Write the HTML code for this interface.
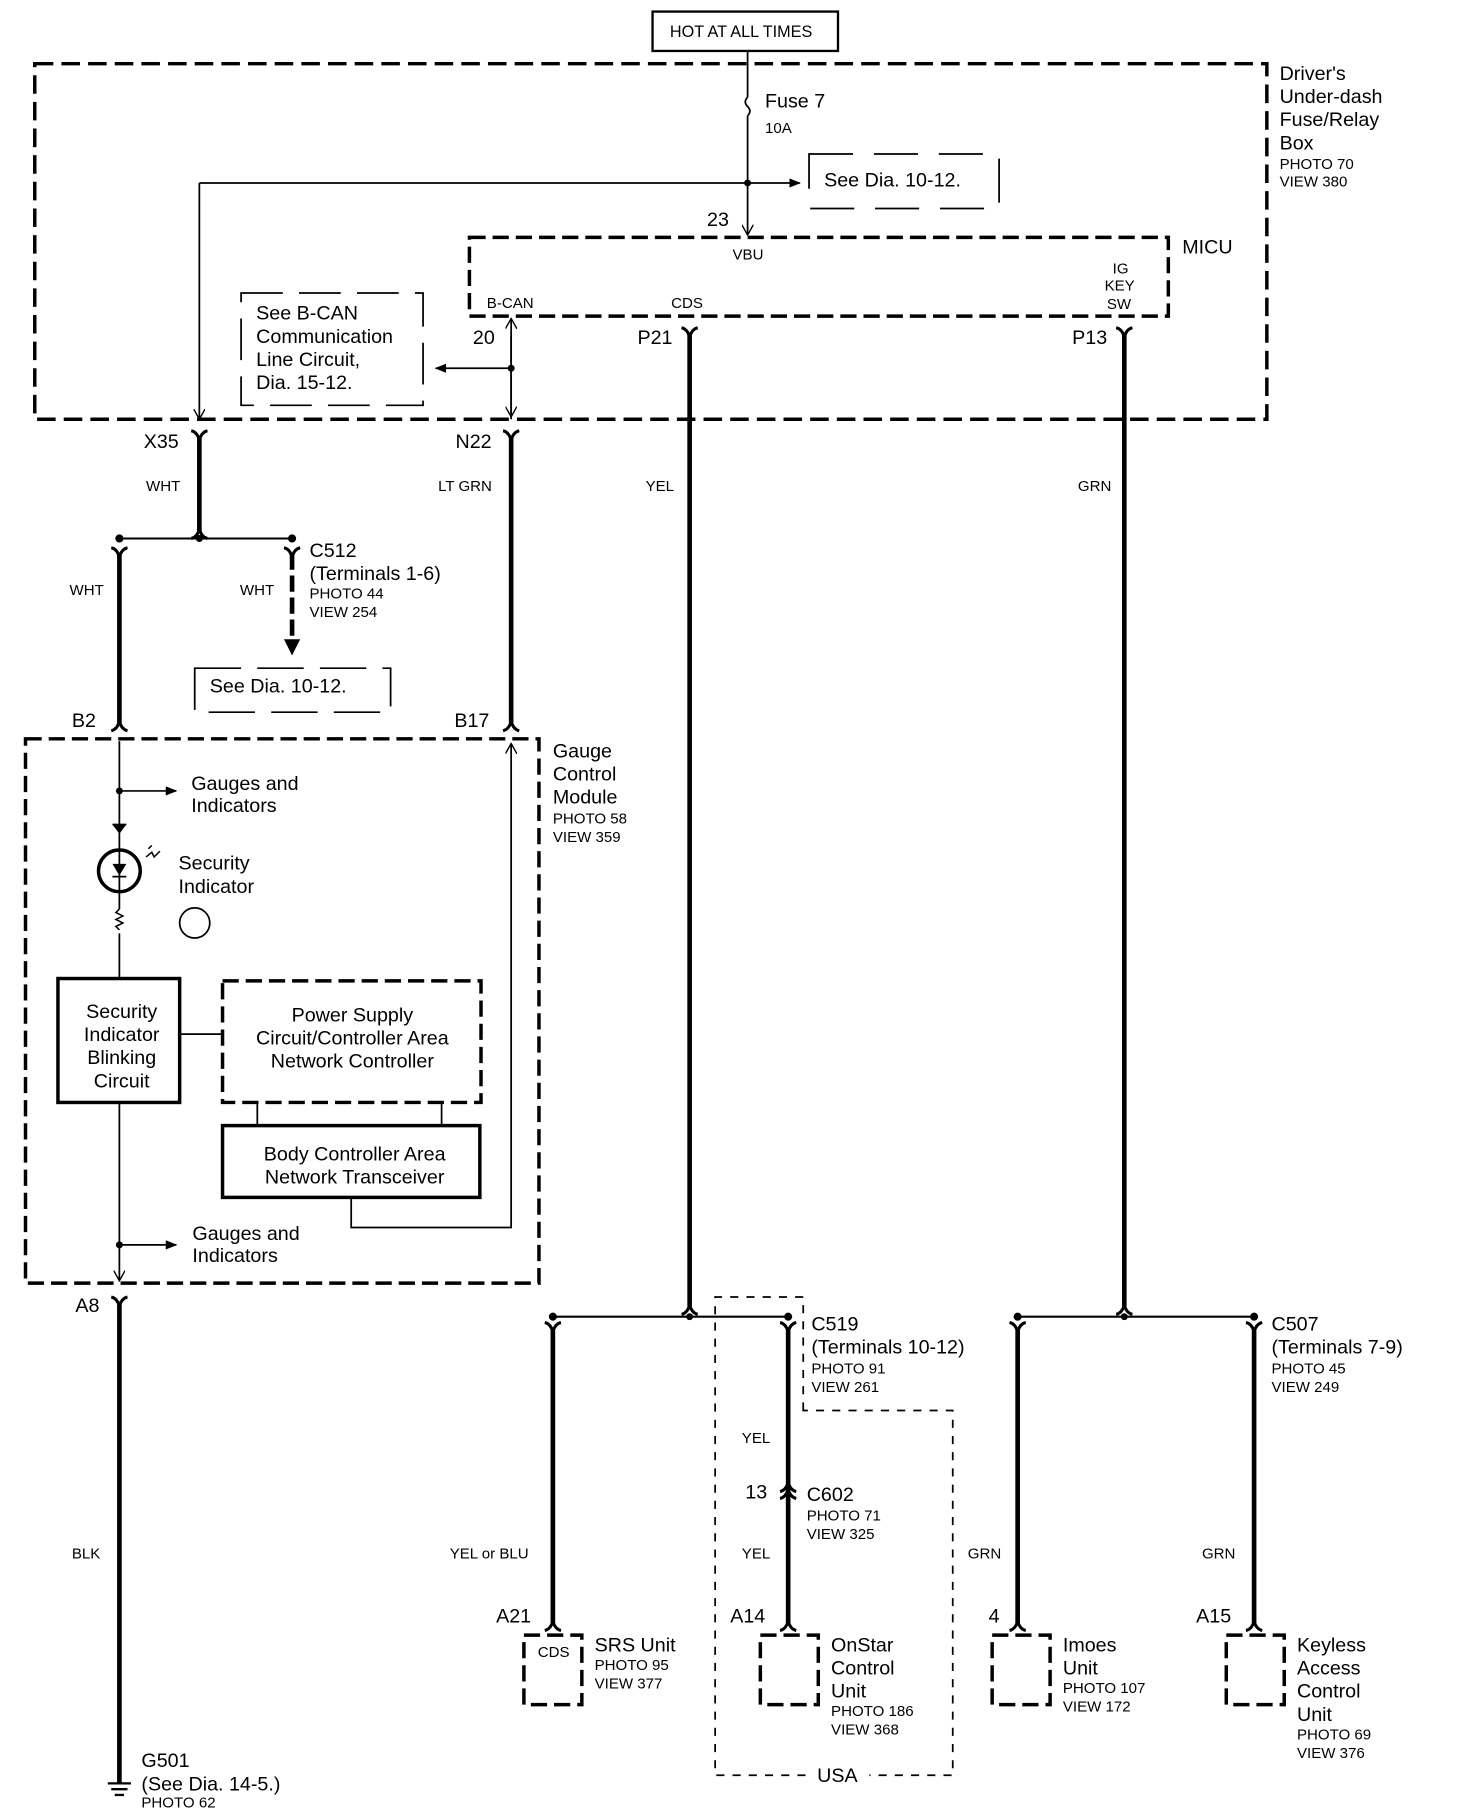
<!DOCTYPE html>
<html><head><meta charset="utf-8"><style>
html,body{margin:0;padding:0;background:#fff}
svg{display:block}
text{font-family:"Liberation Sans",Arial,sans-serif;fill:#000}
.b{font-size:17px}.s{font-size:13px}
</style></head><body>
<svg width="1472" height="1810" viewBox="0 0 1270 1563" preserveAspectRatio="none" xmlns="http://www.w3.org/2000/svg">
<defs>
<path id="Y" d="M-7,-6 Q-2,-5 0,2 Q2,-5 7,-6" stroke="#000" stroke-width="2.6" fill="none"/>
<path id="C" d="M-7,6 Q-2,5 0,-2 Q2,5 7,6" stroke="#000" stroke-width="2.6" fill="none"/>
<marker id="ar" markerWidth="10" markerHeight="8" refX="9" refY="4" orient="auto" markerUnits="userSpaceOnUse"><path d="M0,0 L10,4 L0,8 Z" fill="#000"/></marker>
<marker id="av" markerWidth="10" markerHeight="10" refX="9" refY="5" orient="auto" markerUnits="userSpaceOnUse"><path d="M0,0 L9,5 L0,10" fill="none" stroke="#000" stroke-width="1.2"/></marker>
</defs>
<g fill="none" stroke="#000">
<!-- top -->
<rect x="563" y="10" width="160" height="34" stroke-width="2"/>
<rect x="30" y="55" width="1063" height="307" stroke-width="3" stroke-dasharray="16,7"/>
<line x1="645" y1="44" x2="645" y2="84" stroke-width="1.5"/>
<path d="M645,84 q-4,4 0,8 q4,4 0,8" stroke-width="1.5"/>
<line x1="645" y1="100" x2="645" y2="203" stroke-width="1.5" marker-end="url(#av)"/>
<line x1="645" y1="158" x2="690" y2="158" stroke-width="1.5" marker-end="url(#ar)"/>
<line x1="645" y1="158" x2="172" y2="158" stroke-width="1.5"/>
<line x1="172" y1="158" x2="172" y2="362" stroke-width="1.5" marker-end="url(#av)"/>
<path d="M698,133 H862 V180 H698 Z" stroke-width="1.5" stroke-dasharray="38,18"/>
<rect x="405" y="205" width="603" height="68" stroke-width="3" stroke-dasharray="14,6"/>
<line x1="441" y1="362" x2="441" y2="275" stroke-width="1.5" marker-end="url(#av)"/>
<line x1="441" y1="290" x2="441" y2="360" stroke-width="1.5" marker-end="url(#av)"/>
<line x1="441" y1="318" x2="376" y2="318" stroke-width="1.5" marker-end="url(#ar)"/>
<path d="M208,253 H365 V350 H208 Z" stroke-width="1.5" stroke-dasharray="36,14"/>
<!-- thick wires -->
<g stroke-width="4">
<line x1="172" y1="378" x2="172" y2="460"/>
<line x1="441" y1="378" x2="441" y2="624"/>
<line x1="595" y1="288" x2="595" y2="1128"/>
<line x1="970" y1="288" x2="970" y2="1128"/>
<line x1="103" y1="478" x2="103" y2="624"/>
<line x1="252" y1="478" x2="252" y2="555" stroke-dasharray="14,5"/>
<line x1="103" y1="1124" x2="103" y2="1540"/>
<line x1="477" y1="1148" x2="477" y2="1402"/>
<line x1="680" y1="1148" x2="680" y2="1402"/>
<line x1="878" y1="1148" x2="878" y2="1402"/>
<line x1="1082" y1="1148" x2="1082" y2="1402"/>
</g>
<path d="M245,552 H259 L252,566 Z" fill="#000" stroke="none"/>
<line x1="103" y1="465" x2="252" y2="465" stroke-width="1.8"/>
<path d="M168,577 H337 V615 H168 Z" stroke-width="1.5" stroke-dasharray="40,14"/>
<!-- gauge module -->
<rect x="22" y="638" width="443" height="470" stroke-width="3" stroke-dasharray="14,6"/>
<line x1="103" y1="640" x2="103" y2="734" stroke-width="1.5"/>
<line x1="103" y1="683" x2="152" y2="683" stroke-width="1.5" marker-end="url(#ar)"/>
<path d="M97,712 H109 L103,720 Z" fill="#000" stroke="none"/>
<line x1="97" y1="712" x2="109" y2="712" stroke-width="1.5"/>
<circle cx="103" cy="752" r="18" stroke-width="3"/>
<line x1="103" y1="734" x2="103" y2="785" stroke-width="1.5"/>
<path d="M97,746 H109 L103,756 Z" fill="#000" stroke="none"/>
<line x1="97" y1="757" x2="109" y2="757" stroke-width="1.5"/>
<path d="M103,785 l-3,3 l6,3 l-6,3 l6,3 l-6,3 l3,3" stroke-width="1.3"/>
<line x1="103" y1="806" x2="103" y2="845" stroke-width="1.5"/>
<path d="M126,740 l5,-4 l2,4 l5,-5 M128,733 l3,-3" stroke-width="1.3"/>
<circle cx="168" cy="797" r="13" stroke-width="1.5"/>
<rect x="50" y="845" width="105" height="107" stroke-width="3"/>
<rect x="192" y="847" width="223" height="105" stroke-width="3" stroke-dasharray="14,6"/>
<line x1="155" y1="893" x2="192" y2="893" stroke-width="1.5"/>
<rect x="192" y="972" width="222" height="62" stroke-width="3"/>
<line x1="222" y1="952" x2="222" y2="972" stroke-width="1.5"/>
<line x1="381" y1="952" x2="381" y2="972" stroke-width="1.5"/>
<polyline points="303,1034 303,1060 441,1060 441,642" stroke-width="1.5" marker-end="url(#av)"/>
<line x1="103" y1="952" x2="103" y2="1106" stroke-width="1.5" marker-end="url(#av)"/>
<line x1="103" y1="1075" x2="152" y2="1075" stroke-width="1.5" marker-end="url(#ar)"/>
<!-- lower splices -->
<line x1="477" y1="1137" x2="680" y2="1137" stroke-width="1.8"/>
<line x1="878" y1="1137" x2="1082" y2="1137" stroke-width="1.8"/>
<path d="M693,1218 V1120 H617 V1533 H822 V1218 Z" stroke-width="1.5" stroke-dasharray="7,7"/>
<rect x="452" y="1412" width="50" height="60" stroke-width="3" stroke-dasharray="14,6"/>
<rect x="656" y="1412" width="50" height="60" stroke-width="3" stroke-dasharray="14,6"/>
<rect x="856" y="1412" width="50" height="60" stroke-width="3" stroke-dasharray="14,6"/>
<rect x="1058" y="1412" width="50" height="60" stroke-width="3" stroke-dasharray="14,6"/>
<!-- ground -->
<line x1="93" y1="1540" x2="113" y2="1540" stroke-width="2"/>
<line x1="96" y1="1545" x2="110" y2="1545" stroke-width="2"/>
<line x1="99" y1="1550" x2="107" y2="1550" stroke-width="2"/>
</g>
<!-- dots -->
<g fill="#000">
<circle cx="645" cy="158" r="3"/><circle cx="441" cy="318" r="3"/>
<circle cx="103" cy="465" r="3.5"/><circle cx="172" cy="465" r="3"/><circle cx="252" cy="465" r="3.5"/>
<circle cx="103" cy="683" r="3"/><circle cx="103" cy="1075" r="3"/>
<circle cx="477" cy="1137" r="3.5"/><circle cx="595" cy="1137" r="3"/><circle cx="680" cy="1137" r="3.5"/>
<circle cx="878" cy="1137" r="3.5"/><circle cx="970" cy="1137" r="3"/><circle cx="1082" cy="1137" r="3.5"/>
</g>
<!-- connectors -->
<use href="#Y" x="172" y="378"/><use href="#Y" x="441" y="378"/><use href="#Y" x="595" y="289"/><use href="#Y" x="970" y="289"/>
<use href="#Y" x="103" y="479"/><use href="#Y" x="252" y="479"/><use href="#Y" x="103" y="1126"/>
<use href="#Y" x="477" y="1148"/><use href="#Y" x="680" y="1148"/><use href="#Y" x="878" y="1148"/><use href="#Y" x="1082" y="1148"/>
<use href="#C" x="172" y="459"/><use href="#C" x="103" y="625"/><use href="#C" x="441" y="625"/>
<use href="#C" x="595" y="1129"/><use href="#C" x="970" y="1129"/>
<use href="#C" x="680" y="1282"/><use href="#C" x="680" y="1288"/>
<use href="#C" x="477" y="1402"/><use href="#C" x="680" y="1402"/><use href="#C" x="878" y="1402"/><use href="#C" x="1082" y="1402"/>
<!-- texts -->
<text x="578" y="32" class="s" style="font-size:14px">HOT AT ALL TIMES</text>
<text x="660" y="93" class="b">Fuse 7</text><text x="660" y="115" class="s">10A</text>
<text x="711" y="161" class="b">See Dia. 10-12.</text>
<text x="610" y="195" class="b">23</text>
<text x="632" y="224" class="s">VBU</text>
<text x="1020" y="219" class="b">MICU</text>
<text x="1104" y="69" class="b">Driver's</text><text x="1104" y="89" class="b">Under-dash</text><text x="1104" y="109" class="b">Fuse/Relay</text><text x="1104" y="129" class="b">Box</text>
<text x="1104" y="146" class="s">PHOTO 70</text><text x="1104" y="161" class="s">VIEW 380</text>
<text x="420" y="266" class="s">B-CAN</text><text x="579" y="266" class="s">CDS</text>
<text x="960" y="236" class="s">IG</text><text x="953" y="251" class="s">KEY</text><text x="955" y="267" class="s">SW</text>
<text x="221" y="276" class="b">See B-CAN</text><text x="221" y="296" class="b">Communication</text><text x="221" y="316" class="b">Line Circuit,</text><text x="221" y="336" class="b">Dia. 15-12.</text>
<text x="408" y="297" class="b">20</text><text x="550" y="297" class="b">P21</text><text x="925" y="297" class="b">P13</text>
<text x="124" y="387" class="b">X35</text><text x="393" y="387" class="b">N22</text>
<text x="126" y="424" class="s">WHT</text><text x="378" y="424" class="s">LT GRN</text><text x="557" y="424" class="s">YEL</text><text x="930" y="424" class="s">GRN</text>
<text x="60" y="514" class="s">WHT</text><text x="207" y="514" class="s">WHT</text>
<text x="267" y="481" class="b">C512</text><text x="267" y="501" class="b">(Terminals 1-6)</text>
<text x="267" y="517" class="s">PHOTO 44</text><text x="267" y="533" class="s">VIEW 254</text>
<text x="181" y="598" class="b">See Dia. 10-12.</text>
<text x="62" y="628" class="b">B2</text><text x="392" y="628" class="b">B17</text>
<text x="477" y="654" class="b">Gauge</text><text x="477" y="674" class="b">Control</text><text x="477" y="694" class="b">Module</text>
<text x="477" y="711" class="s">PHOTO 58</text><text x="477" y="727" class="s">VIEW 359</text>
<text x="165" y="682" class="b">Gauges and</text><text x="165" y="701" class="b">Indicators</text>
<text x="154" y="751" class="b">Security</text><text x="154" y="771" class="b">Indicator</text>
<g class="b" text-anchor="middle"><text x="105" y="879">Security</text><text x="105" y="899">Indicator</text><text x="105" y="919">Blinking</text><text x="105" y="939">Circuit</text>
<text x="304" y="882">Power Supply</text><text x="304" y="902">Circuit/Controller Area</text><text x="304" y="922">Network Controller</text>
<text x="306" y="1002">Body Controller Area</text><text x="306" y="1022">Network Transceiver</text></g>
<text x="166" y="1071" class="b">Gauges and</text><text x="166" y="1090" class="b">Indicators</text>
<text x="65" y="1133" class="b">A8</text>
<text x="62" y="1346" class="s">BLK</text>
<text x="122" y="1526" class="b">G501</text><text x="122" y="1546" class="b">(See Dia. 14-5.)</text><text x="122" y="1561" class="s">PHOTO 62</text>
<text x="700" y="1149" class="b">C519</text><text x="700" y="1169" class="b">(Terminals 10-12)</text>
<text x="700" y="1186" class="s">PHOTO 91</text><text x="700" y="1202" class="s">VIEW 261</text>
<text x="1097" y="1149" class="b">C507</text><text x="1097" y="1169" class="b">(Terminals 7-9)</text>
<text x="1097" y="1186" class="s">PHOTO 45</text><text x="1097" y="1202" class="s">VIEW 249</text>
<text x="640" y="1246" class="s">YEL</text><text x="640" y="1346" class="s">YEL</text>
<text x="643" y="1294" class="b">13</text><text x="696" y="1296" class="b">C602</text>
<text x="696" y="1313" class="s">PHOTO 71</text><text x="696" y="1329" class="s">VIEW 325</text>
<text x="388" y="1346" class="s">YEL or BLU</text><text x="835" y="1346" class="s">GRN</text><text x="1037" y="1346" class="s">GRN</text>
<text x="428" y="1401" class="b">A21</text><text x="630" y="1401" class="b">A14</text><text x="853" y="1401" class="b">4</text><text x="1032" y="1401" class="b">A15</text>
<text x="464" y="1431" class="s">CDS</text>
<text x="513" y="1426" class="b">SRS Unit</text><text x="513" y="1442" class="s">PHOTO 95</text><text x="513" y="1458" class="s">VIEW 377</text>
<text x="717" y="1426" class="b">OnStar</text><text x="717" y="1446" class="b">Control</text><text x="717" y="1466" class="b">Unit</text>
<text x="717" y="1482" class="s">PHOTO 186</text><text x="717" y="1498" class="s">VIEW 368</text>
<text x="917" y="1426" class="b">Imoes</text><text x="917" y="1446" class="b">Unit</text>
<text x="917" y="1462" class="s">PHOTO 107</text><text x="917" y="1478" class="s">VIEW 172</text>
<text x="1119" y="1426" class="b">Keyless</text><text x="1119" y="1446" class="b">Access</text><text x="1119" y="1466" class="b">Control</text><text x="1119" y="1486" class="b">Unit</text>
<text x="1119" y="1502" class="s">PHOTO 69</text><text x="1119" y="1518" class="s">VIEW 376</text>
<rect x="698" y="1522" width="52" height="20" fill="#fff"/>
<text x="705" y="1539" class="b">USA</text>
</svg>
</body></html>
